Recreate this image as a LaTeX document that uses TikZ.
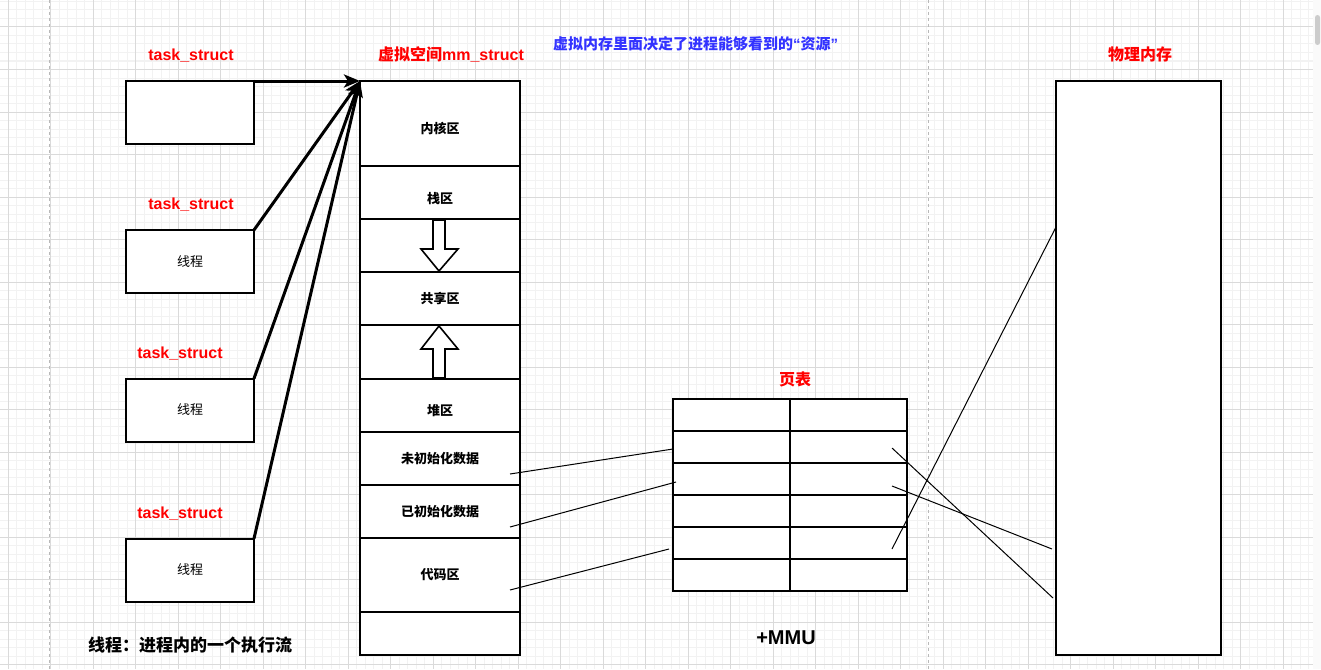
\documentclass[tikz,border=0pt]{standalone}
\usepackage{fontspec}
\setmainfont{Liberation Sans}
\newfontfamily\cjk{Noto Sans CJK SC}
\usetikzlibrary{arrows.meta,positioning,calc}
\definecolor{gridmajor}{HTML}{DADADA}
\definecolor{gridminor}{HTML}{F2F2F2}
\definecolor{noteblue}{HTML}{3333FF}
\tikzset{
    %Define standard arrow tip
    >={Stealth[length=16pt,width=13pt,inset=4pt]},
    % Define arrow style
    pil/.style={
           ->,
           line width=3pt,}
}

\begin{document}
\begin{tikzpicture}[x=1pt,y=-1pt,
box/.style={rectangle, draw=black, line width=2pt, fill=white, inner sep=0pt, outer sep=0pt},
seg/.style={box, minimum width=160pt},
cell/.style={box, minimum width=117pt, minimum height=32pt},
task/.style={box, minimum width=128pt, minimum height=63pt, font=\cjk\fontsize{13}{15}\selectfont},
seglbl/.style={font=\cjk\bfseries\fontsize{13}{15}\selectfont},
redtitle/.style={text=red, font=\bfseries\fontsize{16}{19}\selectfont},
redcjk/.style={text=red, font=\cjk\bfseries\fontsize{16}{19}\selectfont},
thinline/.style={line width=1pt},
]
\useasboundingbox (0,0) rectangle (1321,669);
%Background grid
\fill[white] (0,0) rectangle (1321,669);
\foreach \x in {-0.5,8,...,1313} \draw[gridminor, line width=1pt] (\x,0) -- (\x,669);
\foreach \y in {1.5,10,...,669} \draw[gridminor, line width=1pt] (0,\y) -- (1313,\y);
\foreach \x in {8,50.5,...,1313} \draw[gridmajor, line width=1pt] (\x,0) -- (\x,669);
\foreach \y in {27,69.5,...,669} \draw[gridmajor, line width=1pt] (0,\y) -- (1313,\y);
\draw[gray!55, line width=1pt, dash pattern=on 3pt off 3pt] (49,0) -- (49,669);
\draw[gray!55, line width=1pt, dash pattern=on 3pt off 3pt] (928,0) -- (928,669);
\fill[gray!4] (1313,0) rectangle (1321,669);
\fill[gray!40, rounded corners=2.5pt] (1315,15) rectangle (1320,45);

%Nodes
\node[task] (t1) at (190,112.5) {};
\node[task] (t2) at (190,261.5) {线程};
\node[task] (t3) at (190,410) {线程};
\node[task] (t4) at (190,570) {线程};
\node[redtitle] (ts1) at (191,56) {task\_struct};
\node[redtitle] (ts2) at (191,205) {task\_struct};
\node[redtitle] (ts3) at (180,354) {task\_struct};
\node[redtitle] (ts4) at (180,514) {task\_struct};

%Virtual memory
\node[seg, minimum height=85pt, label={[seglbl,yshift=-5pt]center:内核区}] (kern) at (440,123.5) {};
\node[seg, minimum height=53pt, below=0pt of kern, label={[seglbl,yshift=-6pt]center:栈区}] (stack) {};
\node[seg, minimum height=53pt, below=0pt of stack] (gapa) {};
\node[seg, minimum height=53pt, below=0pt of gapa, label={[seglbl]center:共享区}] (share) {};
\node[seg, minimum height=54pt, below=0pt of share] (gapb) {};
\node[seg, minimum height=53pt, below=0pt of gapb, label={[seglbl,yshift=-5pt]center:堆区}] (heap) {};
\node[seg, minimum height=53pt, below=0pt of heap, label={[seglbl]center:未初始化数据}] (bss) {};
\node[seg, minimum height=53pt, below=0pt of bss, label={[seglbl]center:已初始化数据}] (data) {};
\node[seg, minimum height=74pt, below=0pt of data, label={[seglbl]center:代码区}] (code) {};
\node[seg, minimum height=43pt, below=0pt of code] (rest) {};
\node[text=red, font=\bfseries\fontsize{16}{19}\selectfont] (mmt) at (451,55) {{\cjk 虚拟空间}mm\_struct};
\node[text=noteblue, font=\cjk\bfseries\fontsize{15}{18}\selectfont] (note) at (695.5,44) {虚拟内存里面决定了进程能够看到的{\rmfamily“}资源{\rmfamily”}};

%Grow arrows
\draw[line width=1.6pt, fill=white] (433,220) -- (445,220) -- (445,249) -- (458,249) -- (439,271) -- (421,249) -- (433,249) -- cycle;
\draw[line width=1.6pt, fill=white] (433,378) -- (445,378) -- (445,349) -- (458,349) -- (439,326) -- (421,349) -- (433,349) -- cycle;

%Page table
\node[cell] (pl1) at (731.5,415) {};
\node[cell, right=0pt of pl1] (pr1) {};
\foreach \i [count=\j from 2] in {1,...,5} {
  \node[cell, below=0pt of pl\i] (pl\j) {};
  \node[cell, right=0pt of pl\j] (pr\j) {};
}
\node[redcjk] (ptt) at (795,379) {页表};
\node[font=\bfseries\fontsize{20}{24}\selectfont] (mmu) at (786,638) {+MMU};

%Physical memory
\node[box, minimum width=165pt, minimum height=574pt] (phys) at (1138.5,368) {};
\node[redcjk] (physt) at (1140,54) {物理内存};

\node[font=\cjk\bfseries\fontsize{17}{20}\selectfont] (tnote) at (190,645) {线程：进程内的一个执行流};

%Connectors
\draw[pil] (t1.north east) -- (kern.north west);
\draw[pil] (t2.north east) -- (kern.north west);
\draw[pil] (t3.north east) -- (kern.north west);
\draw[pil] (t4.north east) -- (kern.north west);

\draw[thinline] ($(bss.south east)+(-10,-11)$) -- ($(pl2.west)+(0,2)$);
\draw[thinline] ($(data.south east)+(-10,-11)$) -- ($(pl3.west)+(3,3)$);
\draw[thinline] ($(code.south east)+(-10,-22)$) -- ($(pl5.west)+(-4,6)$);

\draw[thinline] ($(pr2.east)+(-15,1)$) -- ($(phys.west)+(-3,230)$);
\draw[thinline] ($(pr3.east)+(-15,7)$) -- ($(phys.west)+(-4,181)$);
\draw[thinline] ($(pr5.east)+(-15,6)$) -- ($(phys.west)+(0,-141)$);

\end{tikzpicture}
\end{document}
